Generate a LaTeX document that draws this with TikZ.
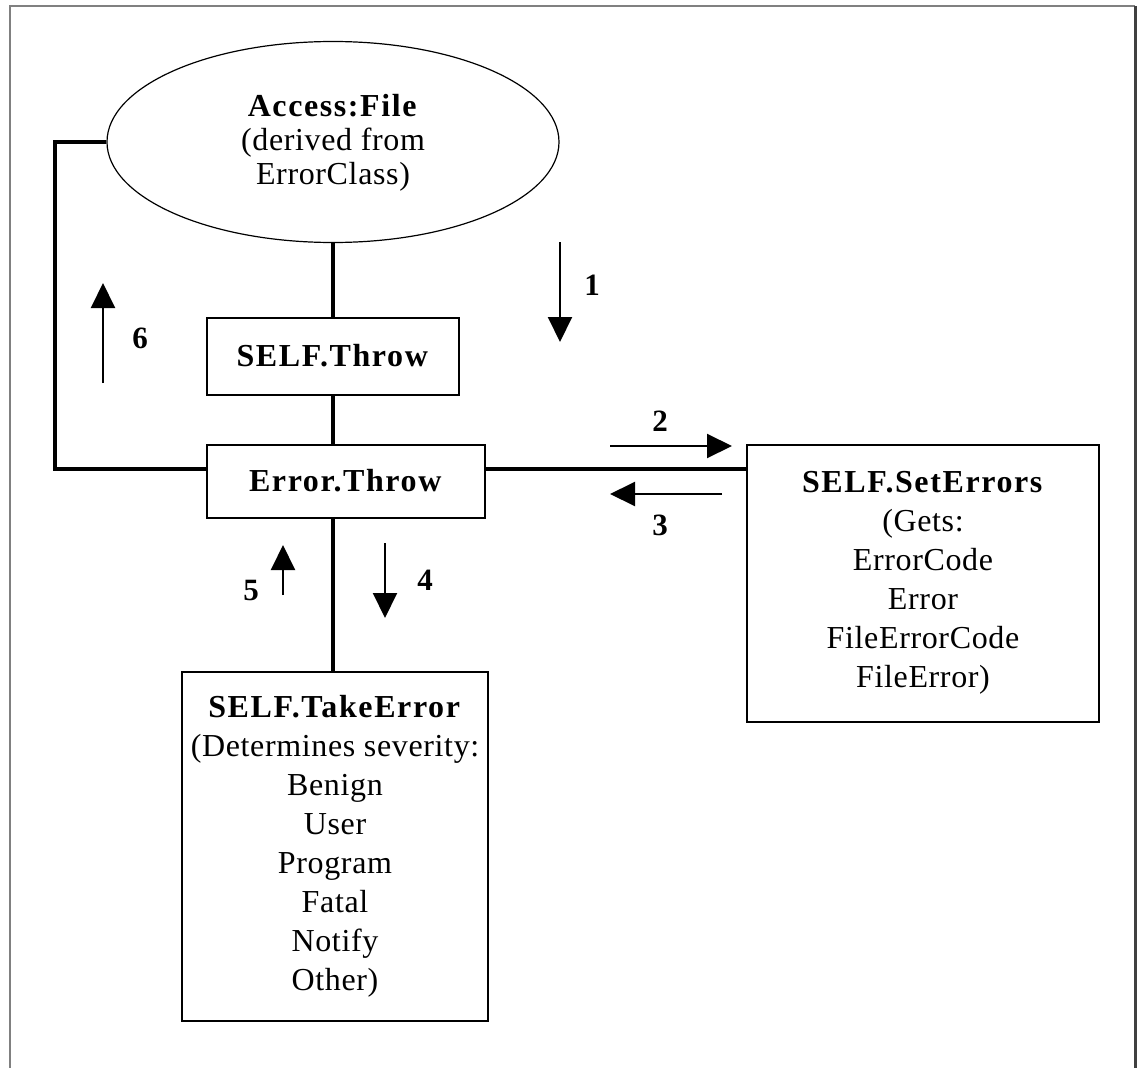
\documentclass[tikz,border=0pt]{standalone}
\usepackage{fontspec}
\setmainfont{Liberation Serif}[LetterSpace=2,BoldFeatures={LetterSpace=5}]
\usetikzlibrary{arrows.meta,positioning,shapes.geometric}

\begin{document}
\begin{tikzpicture}[
      x=1pt, y=-1pt,
      txt/.style={font=\fontsize{32}{39}\selectfont, align=center, inner sep=0pt},
      box/.style={txt, draw, line width=2pt},
      link/.style={line width=4pt},
      flow/.style={-{Triangle[length=25pt,width=24pt]}, line width=2pt},
      num/.style={font=\fontsize{31}{36}\selectfont\bfseries, inner sep=0pt}
    ]
    \useasboundingbox (0,0) rectangle (1141,1068);
    % page frame, open at the bottom
    \draw[gray, line width=2pt] (10,1068) -- (10,6) -- (1135,6);
    \draw[black!75, line width=3pt] (1135,6) -- (1135,1068);

    \node[txt, font=\fontsize{32}{34}\selectfont, draw, ellipse, line width=1.2pt,
      minimum width=452pt, minimum height=201pt, text depth=6pt]
      (access) at (333,142) {\textbf{Access:File}\\(derived from\\ErrorClass)};
    \node[box, minimum width=252pt, minimum height=77pt] (selfthrow) at (333,356) {\textbf{SELF.Throw}};
    \node[box, minimum width=278pt, minimum height=73pt] (errthrow) at (346,481) {\textbf{Error.Throw}};
    \node[box, minimum width=352pt, minimum height=277pt] (seterrors) at (923,583)
      {\textbf{SELF.SetErrors}\\(Gets:\\ErrorCode\\Error\\FileErrorCode\\FileError)};
    \node[box, minimum width=306pt, minimum height=349pt] (takeerror) at (335,846)
      {\textbf{SELF.TakeError}\\(Determines severity:\\Benign\\User\\Program\\Fatal\\Notify\\Other)};

    \draw[link] (access.south) -- (selfthrow.north);
    \draw[link] (selfthrow.south) -- (selfthrow.south |- errthrow.north);
    \draw[link] (selfthrow.south |- errthrow.south) -- (selfthrow.south |- takeerror.north);
    \draw[link] ([yshift=12pt]errthrow.east) -- ([yshift=12pt]errthrow.east -| seterrors.west);
    \draw[link] (access.west) -- ++(-51,0) |- ([yshift=12pt]errthrow.west);

    % numbered steps
    \draw[flow] (560,242) -- (560,342);
    \node[num] (n1) at (592,285) {1};
    \draw[flow] (610,446) -- (732,446);
    \node[num] (n2) at (660,421) {2};
    \draw[flow] (722,494) -- (610,494);
    \node[num] (n3) at (660,525) {3};
    \draw[flow] (385,543) -- (385,618);
    \node[num] (n4) at (425,580) {4};
    \draw[flow] (283,595) -- (283,545);
    \node[num] (n5) at (251,590) {5};
    \draw[flow] (103,383) -- (103,283);
    \node[num] (n6) at (140,338) {6};
  \end{tikzpicture}
\end{document}
